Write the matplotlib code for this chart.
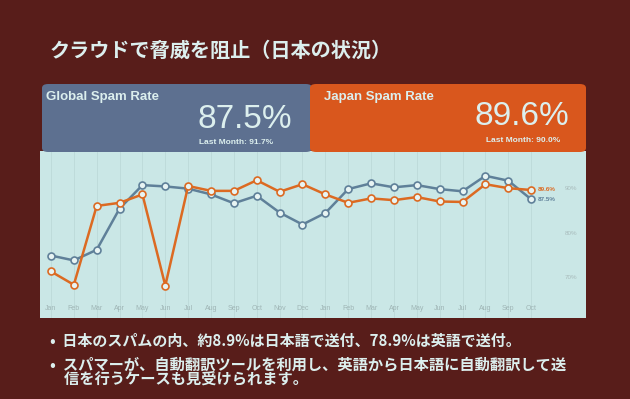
import matplotlib
matplotlib.use('Agg')
import matplotlib.pyplot as plt
from matplotlib.patches import FancyBboxPatch

W, H = 630, 399

months = ['Jan', 'Feb', 'Mar', 'Apr', 'May', 'Jun', 'Jul', 'Aug', 'Sep', 'Oct', 'Nov', 'Dec',
          'Jan', 'Feb', 'Mar', 'Apr', 'May', 'Jun', 'Jul', 'Aug', 'Sep', 'Oct']
global_rate = [74.8, 73.7, 76.1, 85.4, 90.7, 90.4, 89.9, 88.6, 86.6, 88.3, 84.5, 81.8,
               84.4, 89.8, 91.1, 90.2, 90.7, 89.8, 89.3, 92.8, 91.7, 87.5]
japan_rate = [71.2, 68.2, 86.0, 86.7, 88.6, 68.0, 90.5, 89.4, 89.4, 91.8, 89.2, 90.9,
              88.6, 86.7, 87.7, 87.3, 88.0, 87.0, 86.9, 90.9, 90.0, 89.6]
y_ticks = [70, 80, 90]
y_tick_labels = ['70%', '80%', '90%']

title = 'クラウドで脅威を阻止（日本の状況）'
bullets = ['•  日本のスパムの内、約8.9%は日本語で送付、78.9%は英語で送付。',
           '•  スパマーが、自動翻訳ツールを利用し、英語から日本語に自動翻訳して送\n    信を行うケースも見受けられます。']

BG = '#581d1a'
BLUE_BOX = '#5d7090'
ORANGE_BOX = '#d9571d'
PANEL = '#cae7e6'
BLUE = '#5f8099'
ORANGE = '#dc6a22'
LIGHT = '#dcefee'
JP = ['Noto Sans CJK JP', 'DejaVu Sans']
LAT = ['Liberation Sans', 'DejaVu Sans']


def fx(x):
    return x / W


def fy(y):
    return 1 - y / H


fig = plt.figure(figsize=(W / 100, H / 100), dpi=100)
fig.patch.set_facecolor(BG)

# title
fig.text(fx(50), fy(50), title, family=JP, fontsize=14.5, fontweight='bold',
         color=LIGHT, va='center', ha='left')

# header boxes
fig.add_artist(FancyBboxPatch((fx(42), fy(152)), fx(270), fy(84) - fy(152),
                              boxstyle='round,pad=0,rounding_size=0.01',
                              transform=fig.transFigure, facecolor=BLUE_BOX, edgecolor='none'))
fig.add_artist(FancyBboxPatch((fx(310), fy(152)), fx(276), fy(84) - fy(152),
                              boxstyle='round,pad=0,rounding_size=0.01',
                              transform=fig.transFigure, facecolor=ORANGE_BOX, edgecolor='none'))

fig.text(fx(46), fy(97), 'Global Spam Rate', family=LAT, fontsize=9.5, fontweight='bold',
         color=LIGHT, va='center')
fig.text(fx(245), fy(119), '87.5%', family=LAT, fontsize=24, color=LIGHT,
         va='center', ha='center')
fig.text(fx(236), fy(142), 'Last Month: 91.7%', family=LAT, fontsize=6, fontweight='bold',
         color=LIGHT, va='center', ha='center')

fig.text(fx(324), fy(97), 'Japan Spam Rate', family=LAT, fontsize=9.5, fontweight='bold',
         color=LIGHT, va='center')
fig.text(fx(522), fy(117), '89.6%', family=LAT, fontsize=24, color=LIGHT,
         va='center', ha='center')
fig.text(fx(523), fy(141), 'Last Month: 90.0%', family=LAT, fontsize=6, fontweight='bold',
         color=LIGHT, va='center', ha='center')

# chart panel
ax = fig.add_axes([fx(40), fy(318), fx(546), fy(151) - fy(318)])
ax.set_facecolor(PANEL)
x = list(range(len(months)))
ax.set_xlim(-0.48, 23.4)
ax.set_ylim(60.7, 98.4)
for xi in x:
    ax.axvline(xi, color='#bcd9d8', lw=0.6, zorder=0)

ax.plot(x, global_rate, color=BLUE, lw=1.8, marker='o', ms=5,
        mfc='#e8f4f3', mec=BLUE, mew=1.2, zorder=3)
ax.plot(x, japan_rate, color=ORANGE, lw=1.8, marker='o', ms=5,
        mfc='#e8f4f3', mec=ORANGE, mew=1.2, zorder=3)

ax.text(x[-1] + 0.3, japan_rate[-1], '%.1f%%' % japan_rate[-1], color=ORANGE,
        fontsize=4.5, fontweight='bold', va='center', family=LAT)
ax.text(x[-1] + 0.3, global_rate[-1], '%.1f%%' % global_rate[-1], color=BLUE,
        fontsize=4.5, fontweight='bold', va='center', family=LAT)

ax.set_xticks(x)
ax.set_xticklabels(months, family=LAT, fontsize=5, color='#9fb5b5')
ax.tick_params(axis='x', length=0, pad=-9)
ax.set_yticks(y_ticks)
ax.set_yticklabels(y_tick_labels, family=LAT, fontsize=4.5, color='#a9bcbc')
ax.tick_params(axis='y', length=0, labelleft=False, labelright=True, pad=-15)
for s in ax.spines.values():
    s.set_visible(False)

# bullets
fig.text(fx(50), fy(341), bullets[0], family=JP, fontsize=10.8, fontweight='bold',
         color=LIGHT, va='center')
fig.text(fx(50), fy(372), bullets[1], family=JP, fontsize=11, fontweight='bold',
         color=LIGHT, va='center', linespacing=0.95)

fig.savefig('out.png', dpi=100, facecolor=BG)
